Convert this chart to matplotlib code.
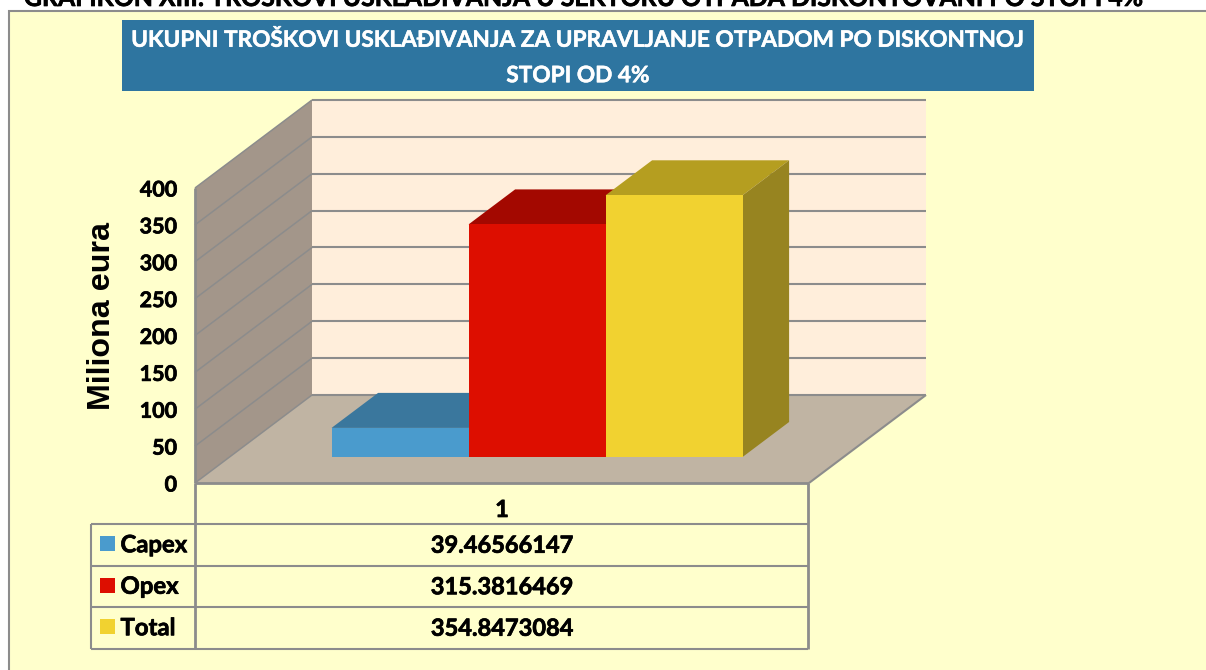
import matplotlib
matplotlib.use("Agg")
import matplotlib.pyplot as plt
import matplotlib.patheffects as pe
from matplotlib.lines import Line2D
from matplotlib.patches import Rectangle

# ---- data ----
series = ["Capex", "Opex", "Total"]
values = [39.46566147, 315.3816469, 354.8473084]
category = "1"
y_ticks = [0, 50, 100, 150, 200, 250, 300, 350, 400]
y_label = "Miliona eura"
title = "UKUPNI TROŠKOVI USKLAĐIVANJA ZA UPRAVLJANJE OTPADOM PO DISKONTNOJ\nSTOPI OD 4%"
page_heading = "GRAFIKON XIII: TROŠKOVI USKLAĐIVANJA U SEKTORU OTPADA DISKONTOVANI PO STOPI 4%"
front_colors = ["#4A9BCD", "#DD0E00", "#F1D230"]
top_colors = ["#3A779D", "#A30800", "#B59E20"]
side_colors = ["#2F6485", "#8A0700", "#978420"]

W, H = 1206, 670
BG, WALL, SIDE, FLOOR = "#FFFFCC", "#FFEEDB", "#A3968A", "#C0B4A3"
GRID = "#8C8C8C"
FONT = "Lato"
HEAVY = [pe.withStroke(linewidth=0.5, foreground="black")]
HEAVY_W = [pe.withStroke(linewidth=0.35, foreground="white")]

fig = plt.figure(figsize=(W / 100, H / 100), dpi=100, facecolor="white")


def fx(x):
    return x / W


def fy(y):
    return 1 - y / H


def rect(x0, y0, x1, y1, z=-5, **kw):
    fig.add_artist(Rectangle((fx(x0), fy(y1)), (x1 - x0) / W, (y1 - y0) / H,
                             transform=fig.transFigure, zorder=z, **kw))


def hline(x0, y0, x1, y1, lw=1.5, color=GRID):
    fig.add_artist(Line2D([fx(x0), fx(x1)], [fy(y0), fy(y1)], color=color,
                          lw=lw, transform=fig.transFigure, solid_capstyle="butt"))


# frame and title banner
rect(9, 11, W + 5, H + 5, facecolor=BG, edgecolor=GRID, linewidth=1.5)
fig.text(fx(584), fy(-1.5), page_heading, ha="center", va="center", family=FONT,
         fontweight="bold", fontsize=17.9, color="black", path_effects=HEAVY)
rect(122, 20, 1034, 91, z=-4, facecolor="#2E75A0", edgecolor="none")
fig.text(fx(578), fy(58), title, ha="center", va="center", family=FONT, color="white",
         fontweight="bold", fontsize=16.3, linespacing=1.85, path_effects=HEAVY_W)

# axes = front plane of the 3D box
ax = fig.add_axes([fx(195), fy(483), (809 - 195) / W, (483 - 188) / H])
ax.set_xlim(0, 1)
ax.set_ylim(0, 400)
ax.patch.set_visible(False)
for s in ax.spines.values():
    s.set_visible(False)
ax.set_xticks([])
ax.set_yticks(y_ticks)
ax.tick_params(axis="y", length=0, pad=13)
for lab in ax.get_yticklabels():
    lab.set_fontfamily(FONT)
    lab.set_fontweight("bold")
    lab.set_fontsize(15.5)
    lab.set_path_effects(HEAVY)

DX = 117 / 614  # depth shift, x in axes units
DY = 88 / (295 / 400)  # depth shift, y in value units


def proj(x, v, d):
    return x + d * DX, v + d * DY


def face(pts, color, z):
    xs, ys = zip(*[proj(*p) for p in pts])
    ax.fill(xs, ys, facecolor=color, edgecolor="none", clip_on=False, zorder=z)


def edge(p, q, z=2, lw=1.5):
    a, b = proj(*p), proj(*q)
    ax.plot([a[0], b[0]], [a[1], b[1]], color=GRID, lw=lw, clip_on=False, zorder=z,
            solid_capstyle="butt")


top = y_ticks[-1]
face([(0, 0, 1), (1, 0, 1), (1, top, 1), (0, top, 1)], WALL, 1)
face([(0, 0, 0), (0, 0, 1), (0, top, 1), (0, top, 0)], SIDE, 1)
face([(0, 0, 0), (1, 0, 0), (1, 0, 1), (0, 0, 1)], FLOOR, 1)

for v in y_ticks[1:]:
    edge((0, v, 1), (1, v, 1))
    edge((0, v, 0), (0, v, 1), lw=1.1)
edge((0, 0, 0), (0, top, 0), lw=2)
edge((0, 0, 0), (1, 0, 0), lw=2)
edge((1, 0, 0), (1, 0, 1), lw=1.5)
edge((0, 0, 0), (0, 0, 1), lw=1.1)
edge((0, 0, 1), (1, 0, 1), lw=1.5)

# bars
bar_w = 137 / 614
bar_left = 102 / 614
d0, d1 = 26 / 88, 61 / 88
for i, (val, fc, tc, sc) in enumerate(zip(values, front_colors, top_colors, side_colors)):
    xl = bar_left + i * bar_w
    xr = xl + bar_w
    z = 3 + i
    face([(xl, val, d0), (xr, val, d0), (xr, val, d1), (xl, val, d1)], tc, z)
    face([(xr, 0, d0), (xr, 0, d1), (xr, val, d1), (xr, val, d0)], sc, z)
    x0, b0 = proj(xl, 0, d0)
    ax.bar(x0, val, width=bar_w, bottom=b0, align="edge", color=fc, zorder=z + 0.5,
           clip_on=False)

fig.text(fx(101.5), fy(316), y_label, rotation=90, ha="center", va="center",
         family="Liberation Sans", fontweight="bold", fontsize=23.2, color="black")

# data table
rows_y = [524, 565.5, 607, 648.5]
for y in rows_y:
    hline(91, y, 808, y)
hline(195, 483, 195, 649, lw=2)
hline(808, 483, 808, 649, lw=2)
hline(91, 524, 91, 649)
fig.text(fx(502), fy(509.5), category, ha="center", va="center", family=FONT,
         fontweight="bold", fontsize=17, color="black", path_effects=HEAVY)
for i, (name, val, fc) in enumerate(zip(series, values, front_colors)):
    yc = (rows_y[i] + rows_y[i + 1]) / 2
    rect(100, yc - 8.5, 115, yc + 6.5, z=-3, facecolor=fc, edgecolor="none")
    fig.text(fx(120.5), fy(yc), name, ha="left", va="center", family=FONT,
             fontweight="bold", fontsize=17.2, color="black", path_effects=HEAVY)
    fig.text(fx(502), fy(yc + 0.5), f"{val:.10g}", ha="center", va="center", family=FONT,
             fontweight="bold", fontsize=17, color="black", path_effects=HEAVY)

fig.savefig("out.png", dpi=100, facecolor="white")
